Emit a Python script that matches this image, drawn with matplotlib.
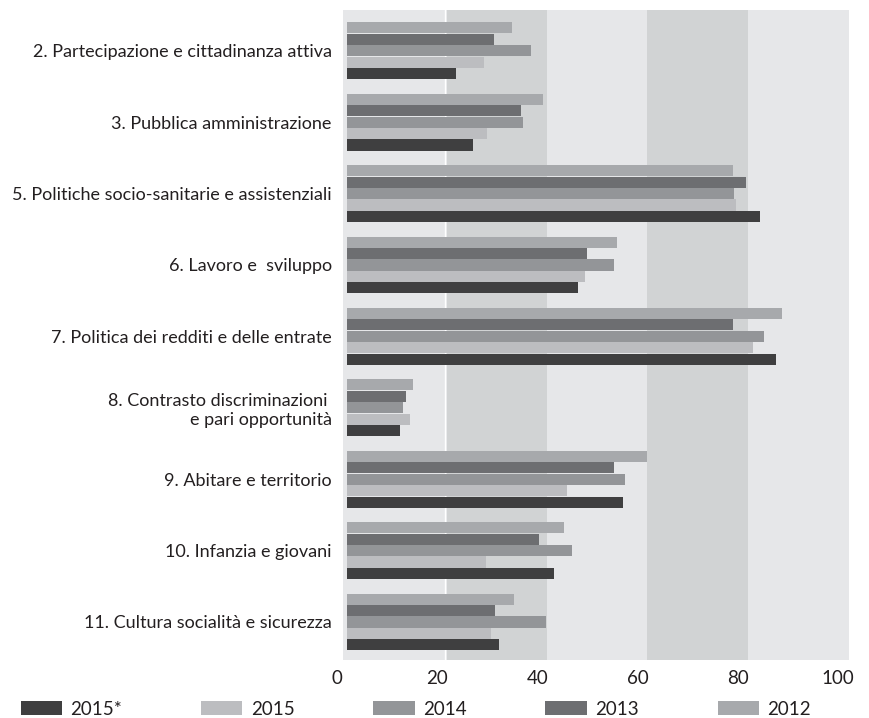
import numpy as np
import matplotlib
matplotlib.use("Agg")
import matplotlib.pyplot as plt
from matplotlib.patches import Patch
from matplotlib.transforms import ScaledTranslation

categories = [
    "2. Partecipazione e cittadinanza attiva",
    "3. Pubblica amministrazione",
    "5. Politiche socio-sanitarie e assistenziali",
    "6. Lavoro e  sviluppo",
    "7. Politica dei redditi e delle entrate",
    "8. Contrasto discriminazioni \ne pari opportunità",
    "9. Abitare e territorio",
    "10. Infanzia e giovani",
    "11. Cultura socialità e sicurezza",
]

series_names = ["2012", "2013", "2014", "2015", "2015*"]
v2012 = [33.0, 39.2, 77.0, 54.0, 86.8, 13.2, 60.0, 43.4, 33.4]
v2013 = [29.4, 34.8, 79.6, 48.0, 77.0, 11.8, 53.4, 38.4, 29.6]
v2014 = [36.8, 35.2, 77.2, 53.4, 83.2, 11.2, 55.6, 45.0, 39.8]
v2015 = [27.4, 28.0, 77.6, 47.6, 81.0, 12.6, 44.0, 27.8, 28.8]
v2015s = [21.8, 25.2, 82.4, 46.2, 85.6, 10.6, 55.2, 41.4, 30.4]

legend_order = ["2015*", "2015", "2014", "2013", "2012"]

colors = {
    "2012": "#a7a9ac",
    "2013": "#6d6e71",
    "2014": "#939598",
    "2015": "#bcbdc0",
    "2015*": "#3f3f40",
}

plt.rcParams["font.family"] = ["Lato", "DejaVu Sans"]
text_color = "#231f20"

fig = plt.figure(figsize=(8.7, 7.18), dpi=100)
ax = fig.add_axes([0.394, 0.081, 0.582, 0.905])

# alternating background bands
for i, x0 in enumerate(range(0, 100, 20)):
    ax.axvspan(x0, x0 + 20, color="#d1d3d4" if i % 2 else "#e6e7e9", lw=0, zorder=0)
ax.axvspan(-1.1, 0, color="#e6e7e9", lw=0, zorder=0)
ax.axvspan(100, 100.3, color="#e6e7e9", lw=0, zorder=0)
ax.axvline(19.6, color="white", lw=1.0, zorder=0.5)

y = np.arange(len(categories))
step = 0.16
data = [v2012, v2013, v2014, v2015, v2015s]
for k, (name, vals) in enumerate(zip(series_names, data)):
    ax.barh(y + (k - 2) * step, vals, height=0.155, color=colors[name], lw=0, zorder=2)

ax.set_xlim(-0.9, 100.3)
ax.set_ylim(8.53, -0.57)
ax.set_yticks(y)
ax.set_yticklabels(categories, fontsize=13, color=text_color, linespacing=1.2)
ax.set_xticks([0, 20, 40, 60, 80, 100])
ax.tick_params(axis="both", length=0, colors=text_color)
ax.tick_params(axis="y", pad=8)
ax.tick_params(axis="x", labelsize=13.5, pad=7)
for lab in ax.get_xticklabels():
    lab.set_transform(lab.get_transform() + ScaledTranslation(-0.1, 0, fig.dpi_scale_trans))
for s in ax.spines.values():
    s.set_visible(False)

handles = [Patch(facecolor=colors[n], edgecolor="none") for n in legend_order]
fig.legend(handles, legend_order, loc="center", bbox_to_anchor=(0.478, 0.012),
           ncol=5, frameon=False, fontsize=13.5, handlelength=2.2, handleheight=0.75,
           handletextpad=0.45, columnspacing=4.2, labelcolor=text_color)

fig.savefig("out.png", dpi=100, facecolor="white")
